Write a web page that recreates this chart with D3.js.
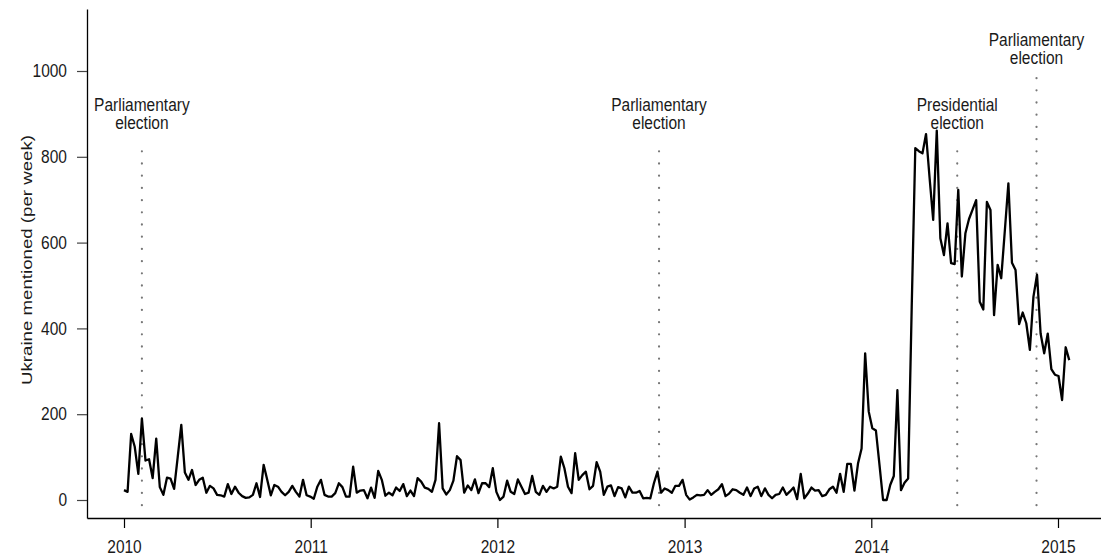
<!DOCTYPE html>
<html>
<head>
<meta charset="utf-8">
<script src="https://cdn.jsdelivr.net/npm/d3@7"></script>
<style>
  html, body { margin: 0; padding: 0; background: #fff; }
  svg text { font-family: "Liberation Sans", Arial, Helvetica, sans-serif; fill: #1a1a1a; }
</style>
</head>
<body>
<div id="chart"></div>
<script>
(function() {
    // ---- data ----
    const seriesStart = "2010-01-01";   // first weekly observation
    const mentions = [
        23, 19, 154, 124, 61, 190, 92, 95, 51, 143, 30, 12, 52, 50, 26, 100, 175, 64, 47, 70,
        35, 47, 52, 17, 33, 27, 12, 11, 8, 37, 14, 31, 17, 9, 5, 6, 12, 39, 7, 82,
        47, 11, 35, 31, 19, 11, 19, 33, 19, 8, 47, 11, 8, 3, 31,
        47, 12, 8, 8, 16, 39, 30, 8, 8, 78, 17, 22, 23, 4, 29, 5, 68, 47, 10, 17,
        11, 29, 21, 37, 9, 22, 9, 51, 43, 29, 26, 19, 47, 179, 27, 13, 23, 45, 102, 93,
        17, 34, 23, 48, 16, 39, 39, 30, 74, 19, 0, 8, 45, 19, 14, 48,
        31, 14, 17, 56, 19, 12, 33, 19, 31, 27, 31, 101, 74, 31, 16, 109, 47, 58, 66, 25,
        33, 88, 66, 12, 31, 34, 9, 30, 27, 6, 31, 17, 17, 21, 4, 5, 4, 39, 66, 17,
        27, 23, 17, 33, 33, 47, 12, 1, 6, 12, 11, 12, 23, 12, 19, 25, 37,
        9, 15, 25, 23, 17, 12, 29, 9, 27, 31, 9, 27, 12, 4, 12, 14, 29, 12, 20, 29,
        2, 61, 4, 15, 29, 22, 23, 9, 12, 25, 31, 17, 61, 19, 84, 84, 22, 85, 120, 342,
        206, 167, 162, 82, 0, 0, 35, 56, 256,
        23, 40, 50, 450, 820, 813, 808, 853, 750, 653, 861, 610, 571, 645, 552, 550, 723, 521, 622, 655,
        677, 699, 462, 444, 695, 676, 431, 548, 517, 627, 738, 553, 536, 410, 437, 412, 350, 474, 525, 388,
        342, 388, 305, 292, 289, 233, 356, 326
    ];

    const electionDates = ["2010-02-05", "2012-11-12", "2014-06-18", "2014-11-20"];
    const electionNames = [
        ["Parliamentary", "election"],
        ["Parliamentary", "election"],
        ["Presidential", "election"],
        ["Parliamentary", "election"]
    ];

    const yTicks = [0, 200, 400, 600, 800, 1000];
    const xTickYears = [2010, 2011, 2012, 2013, 2014, 2015];
    const yLabel = "Ukraine mentioned (per week)";

    // ---- layout ----
    const width = 1101;
    const height = 558;
    const fontSize = 15.5;      // horizontal metrics of the reference text
    const tallSize = 17.5;      // the reference glyphs are a bit taller than wide

    const parse = d3.timeParse("%Y-%m-%d");
    const start = parse(seriesStart);
    const data = mentions.map((v, i) => ({ date: d3.timeDay.offset(start, 7 * i), value: v }));

    const svg = d3.select("#chart").append("svg")
        .attr("width", width)
        .attr("height", height);

    // render text tall, then squeeze it back to the normal width
    function squeeze(sel) {
        sel.each(function() {
            const el = d3.select(this);
            el.style("font-size", fontSize + "px");
            const w = this.getComputedTextLength();
            el.style("font-size", tallSize + "px")
                .attr("textLength", w)
                .attr("lengthAdjust", "spacingAndGlyphs");
        });
    }

    // x: calibrated on the year ticks, then extended to the full axis line
    const x = d3.scaleTime()
        .domain([new Date(2010, 0, 1), new Date(2015, 0, 1)])
        .range([124, 1058]);
    x.domain([x.invert(87), x.invert(1101)]).range([87, 1101]);

    const y = d3.scaleLinear().domain([0, 1000]).range([500, 71]);
    y.domain([y.invert(518), y.invert(9)]).range([518, 9]);

    // ---- axes ----
    const xAxis = d3.axisBottom(x)
        .tickValues(xTickYears.map(yr => new Date(yr, 0, 1)))
        .tickFormat(d3.timeFormat("%Y"))
        .tickSize(10)
        .tickSizeOuter(0)
        .tickPadding(12.5);

    const gx = svg.append("g")
        .attr("transform", `translate(0, 518)`)
        .call(xAxis);
    gx.select(".domain").attr("stroke", "#000").attr("stroke-width", 1.3);
    gx.selectAll(".tick line").attr("stroke", "#000").attr("stroke-width", 1.2);
    gx.selectAll(".tick text")
        .attr("fill", "#1a1a1a")
        .style("font-family", '"Liberation Sans", Arial, sans-serif')
        .call(squeeze);

    const yAxis = d3.axisLeft(y)
        .tickValues(yTicks)
        .tickFormat(d3.format("d"))
        .tickSize(10)
        .tickSizeOuter(0)
        .tickPadding(10);

    const gy = svg.append("g")
        .attr("transform", `translate(87, 0)`)
        .call(yAxis);
    gy.select(".domain").attr("stroke", "#000").attr("stroke-width", 1.3);
    gy.selectAll(".tick line").attr("stroke", "#444").attr("stroke-width", 1.2);
    gy.selectAll(".tick text")
        .attr("fill", "#1a1a1a")
        .style("font-family", '"Liberation Sans", Arial, sans-serif')
        .call(squeeze);

    svg.append("text")
        .attr("transform", `translate(31.5, 260) rotate(-90)`)
        .attr("text-anchor", "middle")
        .attr("textLength", 250)
        .attr("lengthAdjust", "spacingAndGlyphs")
        .style("font-size", fontSize + "px")
        .text(yLabel);

    // ---- election markers ----
    const markerTop = [830, 830, 830, 995];     // where the dotted lines stop
    const labelBase = [907, 907, 907, 1059];    // baseline of the first label line

    const elections = electionDates.map((d, i) => ({
        date: parse(d), lines: electionNames[i], top: markerTop[i], base: labelBase[i]
    }));

    svg.append("g").selectAll("line")
        .data(elections)
        .join("line")
        .attr("x1", d => x(d.date))
        .attr("x2", d => x(d.date))
        .attr("y1", y(-12))
        .attr("y2", d => y(d.top))
        .attr("stroke", "#777")
        .attr("stroke-width", 2.2)
        .attr("stroke-linecap", "round")
        .attr("stroke-dasharray", "0.1,12.1");

    const labels = svg.append("g").selectAll("g")
        .data(elections)
        .join("g");

    labels.selectAll("text")
        .data(d => d.lines.map((t, k) => ({ t, k, x: x(d.date), y: y(d.base) + k * 18.5 })))
        .join("text")
        .attr("text-anchor", "middle")
        .attr("x", t => t.x)
        .attr("y", t => t.y)
        .text(t => t.t)
        .call(squeeze);

    // ---- series ----
    const line = d3.line()
        .x(d => x(d.date))
        .y(d => y(d.value));

    svg.append("path")
        .datum(data)
        .attr("fill", "none")
        .attr("stroke", "#000")
        .attr("stroke-width", 2.3)
        .attr("stroke-linejoin", "round")
        .attr("d", line);
})();
</script>
</body>
</html>
